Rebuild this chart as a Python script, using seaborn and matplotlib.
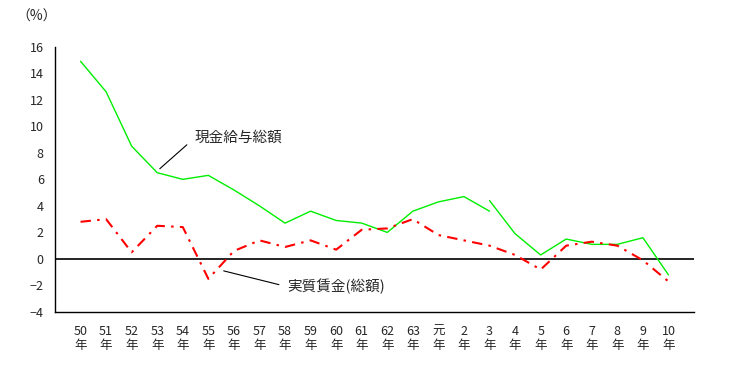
import matplotlib
matplotlib.use("Agg")
import matplotlib.pyplot as plt
import numpy as np
import pandas as pd
import seaborn as sns

# 年次ラベル（昭和50年〜平成10年）
years = ['50', '51', '52', '53', '54', '55', '56', '57', '58', '59', '60', '61',
         '62', '63', '元', '2', '3', '4', '5', '6', '7', '8', '9', '10']

# 現金給与総額（3年で系列が切れる）
cash_old = [14.9, 12.6, 8.5, 6.5, 6.0, 6.3, 5.2, 4.0, 2.7, 3.6, 2.9, 2.7,
            2.0, 3.6, 4.3, 4.7, 3.6, np.nan, np.nan, np.nan, np.nan, np.nan, np.nan, np.nan]
cash_new = [np.nan] * 16 + [4.4, 1.9, 0.3, 1.5, 1.1, 1.1, 1.6, -1.2]

# 実質賃金（総額）
real_wage = [2.8, 3.0, 0.5, 2.5, 2.4, -1.5, 0.6, 1.4, 0.9, 1.4, 0.7, 2.2,
             2.3, 3.0, 1.8, 1.4, 1.0, 0.3, -0.8, 1.0, 1.3, 1.0, -0.1, -1.7]

df = pd.DataFrame({
    'idx': np.arange(len(years)),
    'cash_old': cash_old,
    'cash_new': cash_new,
    'real': real_wage,
})

sns.set_style('white')
plt.rcParams['font.family'] = ['Noto Sans CJK JP', 'DejaVu Sans']

fig = plt.figure(figsize=(7.37, 3.78), dpi=100)
ax = fig.add_axes([0.0746, 0.1746, 0.8671, 0.7019])

sns.lineplot(data=df, x='idx', y='cash_old', ax=ax, color='#00ee00', linewidth=1)
sns.lineplot(data=df, x='idx', y='cash_new', ax=ax, color='#00ee00', linewidth=1)
sns.lineplot(data=df, x='idx', y='real', ax=ax, color='red', linewidth=1.5,
             dashes=False)
ax.lines[-1].set_dashes((5, 3, 1.2, 3))

ax.axhline(0, color='black', linewidth=1.2, zorder=1)

ax.set_xlim(-1, 24)
ax.set_ylim(-4, 16)
ax.set_yticks(range(-4, 17, 2))
ax.set_yticklabels([str(v).replace('-', '−') for v in range(-4, 17, 2)], fontsize=9)
ax.set_xticks(range(0, 25))
ax.set_xticklabels([y + '\n年' for y in years] + [''], fontsize=9, linespacing=1.1)
ax.tick_params(axis='both', direction='in', length=3, width=1, color='black')
ax.tick_params(axis='y', pad=8)
ax.tick_params(axis='x', pad=9)
ax.set_xlabel('')
ax.set_ylabel('')

for s in ['top', 'right']:
    ax.spines[s].set_visible(False)
for s in ['left', 'bottom']:
    ax.spines[s].set_color('black')
    ax.spines[s].set_linewidth(1)

# 注記
ax.annotate('現金給与総額', xy=(3.1, 6.8), xytext=(4.45, 9.1), fontsize=10.5,
            va='center', ha='left',
            arrowprops=dict(arrowstyle='-', color='black', lw=0.8,
                            shrinkA=4, shrinkB=0, relpos=(0, 0.5)))
ax.annotate('実質賃金(総額)', xy=(5.6, -0.9), xytext=(8.1, -2.1), fontsize=10.5,
            va='center', ha='left',
            arrowprops=dict(arrowstyle='-', color='black', lw=0.8,
                            shrinkA=4, shrinkB=0, relpos=(0, 0.5)))

fig.text(0.022, 0.955, '（%）', fontsize=10, va='center', ha='left')

fig.savefig('out.png', dpi=100)
